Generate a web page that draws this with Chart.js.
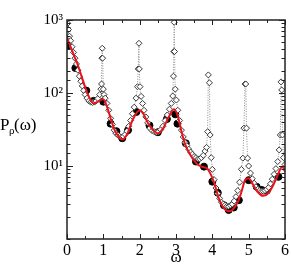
<!DOCTYPE html>
<html>
<head>
<meta charset="UTF-8">
<title>P rho omega</title>
<script src="https://cdn.jsdelivr.net/npm/chart.js"></script>
<style>
  body { margin: 0; background: white; }
</style>
</head>
<body>
<canvas id="chart" width="291" height="267"></canvas>
<script>
// red smooth curve
const omegaRed = [0.00, 0.10, 0.20, 0.30, 0.40, 0.50, 0.60, 0.73, 0.85, 1.00, 1.10, 1.20, 1.30, 1.40, 1.52, 1.65, 1.80, 2.00,
  2.10, 2.25, 2.40, 2.50, 2.65, 2.80, 2.95, 3.05, 3.15, 3.25, 3.40, 3.55, 3.70, 3.85, 3.95, 4.05, 4.18, 4.30, 4.45,
  4.55, 4.70, 4.80, 4.90, 5.00, 5.10, 5.25, 5.40, 5.55, 5.70, 5.80, 5.92, 6.00];
const pRed = [565, 430, 320, 240, 170, 120, 90, 72, 76, 82, 65, 45, 32, 26, 23, 27, 42, 58,
  52, 37, 30, 28, 33, 47, 60, 48, 30, 20, 14, 11, 9.8, 9.3, 7.8, 5.9, 3.6, 2.7, 2.4,
  2.5, 3.2, 4.4, 6.4, 6.8, 5.8, 4.4, 3.9, 4.3, 5.8, 7.5, 9.8, 8.4];

// filled circles
const omegaDot = [0.00, 0.23, 0.53, 0.73, 1.00, 1.20, 1.36, 1.52, 1.68, 1.91, 2.27, 2.50, 2.75, 2.98, 3.04, 3.27,
  3.55, 3.77, 4.00, 4.15, 4.32, 4.45, 4.59, 4.73, 5.00, 5.22, 5.36, 5.50, 5.82];
const pDot = [440, 220, 108, 78, 76, 38, 30, 24, 31, 55, 36, 29, 44, 51, 38, 20.5,
  11.5, 9.8, 6.1, 4.3, 2.9, 2.5, 2.7, 3.4, 6.4, 5.2, 4.7, 4.6, 7.1];

// open diamonds (dotted)
const omegaDia = [0.02, 0.04, 0.07, 0.10, 0.14, 0.18, 0.22, 0.26, 0.30, 0.34, 0.38, 0.42, 0.46, 0.50, 0.55, 0.60,
  0.65, 0.70, 0.75, 0.80, 0.85, 0.90, 0.93, 0.95, 0.96, 0.97, 0.98, 1.00, 1.02, 1.05, 1.10, 1.15, 1.20, 1.25,
  1.30, 1.35, 1.40, 1.45, 1.50, 1.55, 1.60, 1.65, 1.70, 1.75, 1.80, 1.85, 1.90, 1.94, 1.96, 1.98, 1.99, 2.01,
  2.04, 2.08, 2.12, 2.17, 2.22, 2.28, 2.34, 2.40, 2.46, 2.52, 2.58, 2.64, 2.70, 2.76, 2.82, 2.87, 2.91, 2.93,
  2.94, 2.95, 2.96, 2.98, 3.01, 3.05, 3.10, 3.15, 3.20, 3.25, 3.30, 3.35, 3.40, 3.45, 3.50, 3.55, 3.60, 3.65,
  3.70, 3.75, 3.80, 3.84, 3.87, 3.89, 3.92, 3.94, 3.97, 4.00, 4.05, 4.10, 4.15, 4.20, 4.25, 4.30, 4.35, 4.40,
  4.45, 4.50, 4.55, 4.60, 4.65, 4.70, 4.75, 4.80, 4.84, 4.87, 4.90, 4.92, 4.94, 4.97, 5.00, 5.05, 5.10, 5.15,
  5.20, 5.25, 5.30, 5.35, 5.40, 5.45, 5.50, 5.55, 5.60, 5.65, 5.70, 5.75, 5.80, 5.84, 5.87, 5.89, 5.91, 5.93,
  5.96, 6.00];
const pDia = [900, 740, 600, 520, 430, 360, 300, 250, 205, 170, 145, 125, 108, 95, 85, 78,
  75, 74, 75, 78, 84, 95, 113, 133, 300, 410, 300, 113, 95, 85, 72, 58, 45, 37,
  31, 28, 26.5, 25.5, 25, 25.5, 27, 30, 35, 42, 52, 64, 85, 122, 214, 480, 214, 122,
  90, 72, 58, 47, 39, 33, 30.5, 29.5, 29, 29.5, 31.5, 35, 42, 50, 60, 72, 91, 170,
  370, 930, 370, 113, 80, 58, 42, 31, 25, 21, 19, 17, 15.5, 14.5, 13.5, 13, 12.5, 12.5,
  13, 14, 16, 18, 29.5, 177, 138, 26.6, 13, 9, 6.5, 5, 4.2, 3.6, 3.2, 3.0, 2.9, 2.8,
  2.8, 2.9, 3.0, 3.3, 3.8, 4.6, 6, 9, 12.8, 33, 133, 133, 33, 12.8, 10, 8, 6.7, 5.8,
  5.2, 4.8, 4.6, 4.5, 4.5, 4.6, 4.8, 5.1, 5.7, 6.6, 7.7, 9.2, 11.5, 16.6, 26.6, 142, 110, 26.6,
  13, 10.5];

const xTicks = [0, 1, 2, 3, 4, 5, 6];
const yTickLabels = {10: '10\u00b9', 100: '10\u00b2', 1000: '10\u00b3'};

const pts = (xs, ys) => xs.map((x, i) => ({x: x, y: ys[i]}));

// ticks pointing inside, on all four sides, plus frame and axis titles
const frameAndTicks = {
  id: 'frameAndTicks',
  afterDraw(chart) {
    const ctx = chart.ctx, a = chart.chartArea;
    const xs = chart.scales.x, ys = chart.scales.y;
    ctx.save();
    ctx.strokeStyle = '#222';
    ctx.lineWidth = 1;
    ctx.beginPath();
    xs.ticks.forEach(t => {
      const px = Math.round(xs.getPixelForValue(t.value)) + 0.5;
      const len = xTicks.includes(t.value) ? 5 : 3;
      ctx.moveTo(px, a.bottom); ctx.lineTo(px, a.bottom - len);
      ctx.moveTo(px, a.top); ctx.lineTo(px, a.top + len);
    });
    ys.ticks.forEach(t => {
      const py = Math.round(ys.getPixelForValue(t.value)) + 0.5;
      const len = yTickLabels[t.value] ? 6 : 3.5;
      ctx.moveTo(a.left, py); ctx.lineTo(a.left + len, py);
      ctx.moveTo(a.right, py); ctx.lineTo(a.right - len, py);
    });
    ctx.stroke();
    ctx.lineWidth = 1.5;
    ctx.strokeRect(a.left, a.top, a.right - a.left, a.bottom - a.top);

    ctx.fillStyle = '#000';
    ctx.textBaseline = 'alphabetic';
    ctx.textAlign = 'left';
    ctx.font = '17px "Liberation Serif"';
    ctx.fillText('P', 0, 130);
    ctx.font = '11px "Liberation Serif"';
    ctx.fillText('\u03c1', 9, 134);
    ctx.font = '17px "Liberation Serif"';
    ctx.fillText('(\u03c9)', 14, 130);
    ctx.textAlign = 'center';
    ctx.font = '17px "Liberation Serif"';
    ctx.fillText('\u03c9', (a.left + a.right) / 2, 262);
    ctx.restore();
  }
};

new Chart(document.getElementById('chart'), {
  type: 'scatter',
  data: {
    datasets: [
      {
        label: 'fit',
        data: pts(omegaRed, pRed),
        showLine: true,
        borderColor: '#e8141c',
        borderWidth: 2,
        pointRadius: 0,
        cubicInterpolationMode: 'monotone'
      },
      {
        label: 'diamonds',
        data: pts(omegaDia, pDia),
        showLine: true,
        borderColor: '#8a8a8a',
        borderWidth: 1,
        borderDash: [1, 1.5],
        pointStyle: 'rectRot',
        pointRadius: 3,
        pointBorderColor: '#3a3a3a',
        pointBackgroundColor: '#ffffff',
        pointBorderWidth: 1
      },
      {
        label: 'dots',
        data: pts(omegaDot, pDot),
        showLine: false,
        pointStyle: 'circle',
        pointRadius: 3.5,
        pointBorderColor: '#000',
        pointBackgroundColor: '#000'
      }
    ]
  },
  options: {
    responsive: false,
    animation: false,
    layout: { padding: { top: 20, right: 4, left: 0, bottom: 0 } },
    plugins: { legend: { display: false }, tooltip: { enabled: false } },
    scales: {
      x: {
        type: 'linear',
        min: 0, max: 6,
        grid: { display: false, drawTicks: false },
        border: { display: false },
        ticks: {
          stepSize: 0.5,
          autoSkip: false,
          maxRotation: 0,
          padding: 2,
          color: '#000',
          font: { family: 'Liberation Serif', size: 16 },
          callback: v => xTicks.includes(v) ? String(v) : ''
        },
        afterFit: s => { s.height = 28; }
      },
      y: {
        type: 'logarithmic',
        min: 1, max: 1000,
        grid: { display: false, drawTicks: false },
        border: { display: false },
        ticks: {
          autoSkip: false,
          padding: 4,
          color: '#000',
          font: { family: 'Liberation Serif', size: 15 },
          callback: v => yTickLabels[v] || ''
        },
        afterFit: s => { s.width = 67; }
      }
    }
  },
  plugins: [frameAndTicks]
});
</script>
</body>
</html>
